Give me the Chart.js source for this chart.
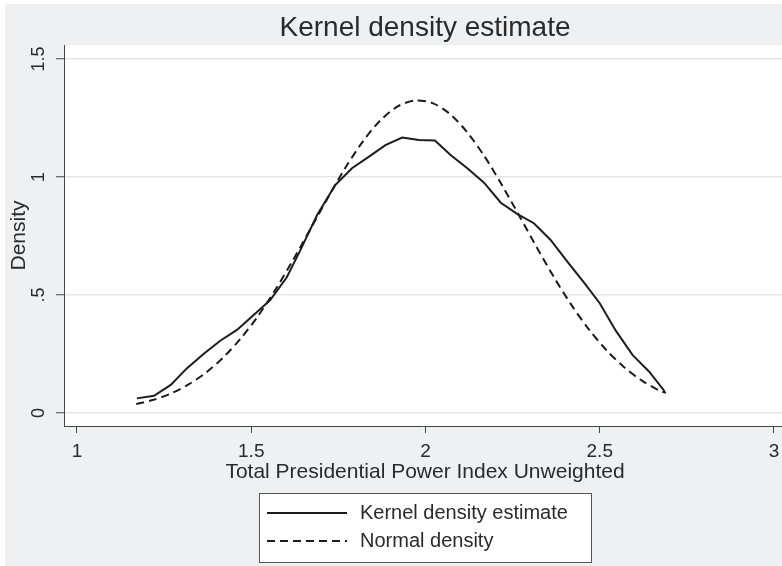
<!DOCTYPE html>
<html lang="en">
<head>
<meta charset="UTF-8">
<title>Kernel density estimate</title>
<script src="https://cdn.jsdelivr.net/npm/chart.js"></script>
<style>
  html, body { margin: 0; padding: 0; background: #fff; }
  canvas { display: block; }
</style>
</head>
<body>
<canvas id="kdeChart" width="782" height="566"></canvas>
<script>
// kernel density estimate (solid line)
const kdeX = [1.172, 1.221, 1.269, 1.315, 1.363, 1.411, 1.459, 1.507, 1.555, 1.602,
              1.641, 1.689, 1.741, 1.789, 1.837, 1.885, 1.933, 1.981, 2.027, 2.072,
              2.120, 2.168, 2.216, 2.264, 2.311, 2.359, 2.407, 2.455, 2.500, 2.546,
              2.594, 2.642, 2.687];
const kdeY = [0.062, 0.073, 0.119, 0.189, 0.250, 0.306, 0.352, 0.415, 0.479, 0.575,
              0.690, 0.839, 0.966, 1.037, 1.085, 1.135, 1.167, 1.157, 1.155, 1.093,
              1.037, 0.976, 0.891, 0.843, 0.804, 0.733, 0.641, 0.552, 0.465, 0.349,
              0.246, 0.175, 0.090];

// normal density (dashed line)
const normX = [1.17, 1.22, 1.27, 1.32, 1.37, 1.42, 1.47, 1.52, 1.57, 1.62,
               1.67, 1.72, 1.77, 1.82, 1.87, 1.92, 1.97, 2.02, 2.07, 2.12,
               2.17, 2.22, 2.27, 2.32, 2.37, 2.42, 2.47, 2.52, 2.57, 2.62,
               2.67, 2.69];
const normY = [0.038, 0.056, 0.083, 0.121, 0.171, 0.236, 0.316, 0.412, 0.524, 0.648,
               0.780, 0.912, 1.039, 1.150, 1.239, 1.299, 1.324, 1.313, 1.267, 1.189,
               1.086, 0.964, 0.833, 0.700, 0.572, 0.455, 0.352, 0.265, 0.194, 0.138,
               0.096, 0.085];

const xTicks = [1, 1.5, 2, 2.5, 3];
const xTickLabels = ['1', '1.5', '2', '2.5', '3'];
const yTicks = [0, 0.5, 1, 1.5];
const yTickLabels = ['0', '.5', '1', '1.5'];
const seriesNames = ['Kernel density estimate', 'Normal density'];
const chartTitle = 'Kernel density estimate';
const xTitle = 'Total Presidential Power Index Unweighted';
const yTitle = 'Density';

const FONT = "'Liberation Sans', Arial, Helvetica, sans-serif";
const INK = '#1c1c1c';
const TEXT = '#2a2a2a';
const DASH = [8, 5];

Chart.defaults.font.family = FONT;
Chart.defaults.color = TEXT;

// gray frame, white plot region, titles, rotated y labels and boxed legend
const stataLook = {
  id: 'stataLook',
  beforeDraw(chart) {
    const { ctx, chartArea: a } = chart;
    ctx.save();
    ctx.fillStyle = '#ffffff';
    ctx.fillRect(0, 0, chart.width, chart.height);
    ctx.fillStyle = '#eff0f2';
    ctx.fillRect(5, 4, chart.width - 5, chart.height - 4);
    ctx.fillStyle = '#ffffff';
    ctx.fillRect(a.left, a.top, a.right - a.left, a.bottom - a.top);
    ctx.restore();
  },
  afterDraw(chart) {
    const { ctx, chartArea: a } = chart;
    const ys = chart.scales.y;
    const mid = 425;
    ctx.save();
    ctx.fillStyle = TEXT;

    // title
    ctx.font = '28px ' + FONT;
    ctx.textAlign = 'center';
    ctx.textBaseline = 'alphabetic';
    ctx.fillText(chartTitle, mid, 36);

    // x title
    ctx.font = '21px ' + FONT;
    ctx.fillText(xTitle, mid, 478);

    // y title
    ctx.save();
    ctx.translate(25, (a.top + a.bottom) / 2);
    ctx.rotate(-Math.PI / 2);
    ctx.fillText(yTitle, 0, 0);
    ctx.restore();

    // y tick labels, rotated
    ctx.font = '18px ' + FONT;
    yTicks.forEach((v, i) => {
      ctx.save();
      ctx.translate(44, ys.getPixelForValue(v));
      ctx.rotate(-Math.PI / 2);
      ctx.fillText(yTickLabels[i], 0, 0);
      ctx.restore();
    });

    // legend
    const lx = 259, ly = 493, lw = 332, lh = 69;
    ctx.fillStyle = '#ffffff';
    ctx.fillRect(lx, ly, lw, lh);
    ctx.strokeStyle = '#555';
    ctx.lineWidth = 1;
    ctx.strokeRect(lx + 0.5, ly + 0.5, lw, lh);

    const rows = [513, 541];
    chart.data.datasets.forEach((ds, i) => {
      ctx.strokeStyle = ds.borderColor;
      ctx.lineWidth = ds.borderWidth;
      ctx.setLineDash(ds.borderDash || []);
      ctx.beginPath();
      ctx.moveTo(267, rows[i]);
      ctx.lineTo(347, rows[i]);
      ctx.stroke();
      ctx.setLineDash([]);
      ctx.fillStyle = TEXT;
      ctx.font = '20px ' + FONT;
      ctx.textAlign = 'left';
      ctx.textBaseline = 'middle';
      ctx.fillText(ds.label, 360, rows[i]);
    });
    ctx.restore();
  }
};

const ctx = document.getElementById('kdeChart').getContext('2d');
new Chart(ctx, {
  type: 'line',
  data: {
    datasets: [
      {
        label: seriesNames[0],
        data: kdeX.map((x, i) => ({ x: x, y: kdeY[i] })),
        borderColor: INK,
        borderWidth: 2,
        pointRadius: 0,
        tension: 0
      },
      {
        label: seriesNames[1],
        data: normX.map((x, i) => ({ x: x, y: normY[i] })),
        borderColor: INK,
        borderWidth: 2,
        borderDash: DASH,
        pointRadius: 0,
        tension: 0.3
      }
    ]
  },
  options: {
    responsive: false,
    animation: false,
    layout: { padding: { top: 45, right: 0, bottom: 0, left: 0 } },
    plugins: {
      legend: { display: false },
      title: { display: false },
      tooltip: { enabled: false }
    },
    scales: {
      x: {
        type: 'linear',
        min: 0.9627,
        max: 3.023,
        afterBuildTicks: s => { s.ticks = xTicks.map(v => ({ value: v })); },
        afterFit: s => { s.height = 140; s.paddingLeft = 0; s.paddingRight = 0; },
        ticks: {
          font: { size: 19 },
          color: TEXT,
          padding: 7,
          maxRotation: 0,
          callback: v => xTickLabels[xTicks.indexOf(v)]
        },
        grid: {
          drawOnChartArea: false,
          drawTicks: true,
          tickLength: 7,
          tickColor: '#444',
          tickWidth: 1
        },
        border: { display: true, color: '#444', width: 1 }
      },
      y: {
        min: -0.0551,
        max: 1.5593,
        afterBuildTicks: s => { s.ticks = yTicks.map(v => ({ value: v })); },
        afterFit: s => { s.width = 64; s.paddingTop = 0; s.paddingBottom = 0; },
        ticks: { display: false },
        grid: {
          color: '#e4e5e7',
          lineWidth: 1.5,
          drawTicks: true,
          tickLength: 8,
          tickColor: '#444',
          tickWidth: 1
        },
        border: { display: true, color: '#444', width: 1 }
      }
    }
  },
  plugins: [stataLook]
});
</script>
</body>
</html>
